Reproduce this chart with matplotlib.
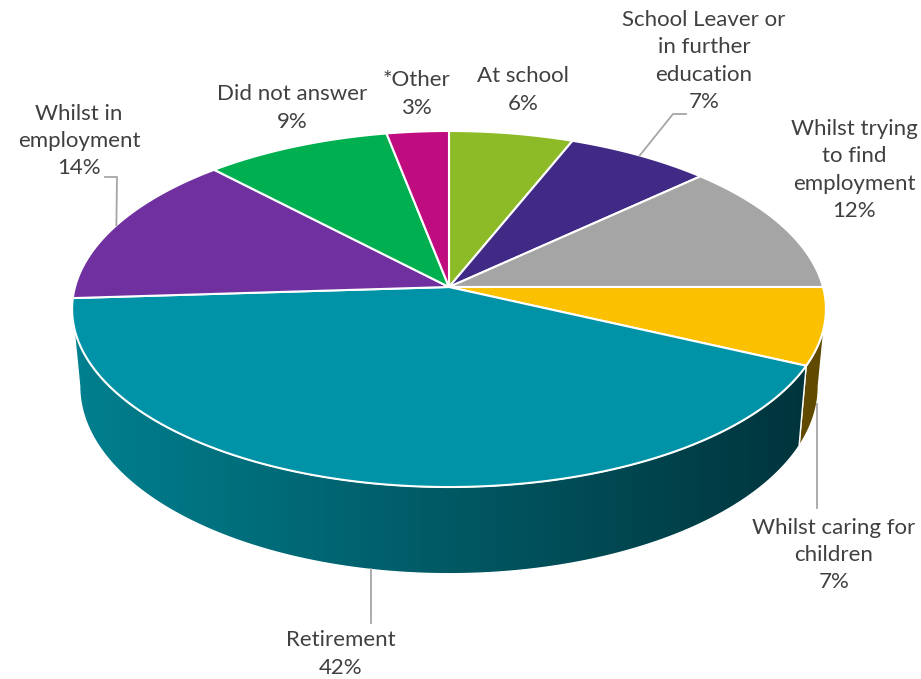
import numpy as np
import matplotlib.pyplot as plt
from matplotlib.patches import Polygon

# Survey answers, clockwise from 12 o'clock
categories = ['At school', 'School Leaver or\nin further\neducation',
              'Whilst trying\nto find\nemployment', 'Whilst caring for\nchildren',
              'Retirement', 'Whilst in\nemployment', 'Did not answer', '*Other']
shares = [6, 7, 12, 7, 42, 14, 9, 3]
top_colors = ['#8CBB27', '#402A86', '#A5A5A5', '#FBC000',
              '#0092A6', '#7030A0', '#00B050', '#BF0D80']
side_colors = ['#46600F', '#201444', '#555555', '#5F4A00',
               '#00606E', '#381850', '#005828', '#600640']

# label block centres (pixels) and leader elbows
label_pos = [(523, 90), (704, 61), (854, 170), (834, 555),
             (341, 654), (79, 141), (292, 108), (416, 94)]
leaders = {1: [(673, 114), (686, 114)],
           3: [(None, 508)],
           4: [(None, 623)],
           5: [(117, 177), (105, 177)]}

# projection of the tilted disc
CX, CY = 449, 287
RX, RY = 374, 175.3
K = 0.1236
DEPTH = 76
BOTTOM_SHRINK = 0.98


def project(theta, drop=0.0):
    t = np.radians(theta)
    X = np.sin(t)
    Y = -np.cos(t)
    s = 1.0 / (1.0 - K * Y)
    shrink = 1.0 - (1.0 - BOTTOM_SHRINK) * (drop / DEPTH)
    return CX + RX * X * s * shrink, CY + RY * Y * s + drop * s


fig = plt.figure(figsize=(9.21, 6.79), dpi=100)
ax = fig.add_axes([0, 0, 1, 1])

bounds = np.concatenate([[0], np.cumsum(shares)]) * 3.6
t_min = np.degrees(np.arccos(-K))
t_max = 360 - t_min

# side walls
for i in range(len(shares)):
    lo, hi = max(bounds[i], t_min), min(bounds[i + 1], t_max)
    if lo >= hi:
        continue
    th = np.linspace(lo, hi, 200)
    tx, ty = project(th)
    bx, by = project(th[::-1], DEPTH)
    pts = np.column_stack([np.concatenate([tx, bx]), np.concatenate([ty, by])])
    if categories[i] == 'Retirement':
        outline = Polygon(pts, closed=True, facecolor='none', edgecolor='white', lw=1.0, zorder=3)
        ax.add_patch(outline)
        x0, x1 = pts[:, 0].min(), pts[:, 0].max()
        c0 = np.array([0x00, 0x80, 0x8F]) / 255
        c1 = np.array([0x00, 0x34, 0x3C]) / 255
        f = np.linspace(0, 1, 256)[:, None]
        grad = (c0 + (c1 - c0) * f)[None, :, :]
        im = ax.imshow(grad, extent=(x0, x1, pts[:, 1].max(), pts[:, 1].min()),
                       aspect='auto', zorder=2, interpolation='bilinear')
        im.set_clip_path(outline)
    else:
        ax.add_patch(Polygon(pts, closed=True, facecolor=side_colors[i],
                             edgecolor='white', lw=1.0, zorder=2))

# top face
for i in range(len(shares)):
    th = np.linspace(bounds[i], bounds[i + 1], 200)
    ax_, ay_ = project(th)
    pts = np.column_stack([np.concatenate([[CX], ax_]), np.concatenate([[CY], ay_])])
    ax.add_patch(Polygon(pts, closed=True, facecolor=top_colors[i],
                         edgecolor='white', lw=1.5, zorder=4, joinstyle='round'))

# labels and leader lines
for i, (cat, val) in enumerate(zip(categories, shares)):
    x, y = label_pos[i]
    ax.text(x, y, f'{cat}\n{val}%', ha='center', va='center', fontsize=16,
            family='Lato', color='#404040', linespacing=1.45, zorder=6)
    if i in leaders:
        mid = (bounds[i] + bounds[i + 1]) / 2
        drop = DEPTH if 90 < mid < 270 else 0
        sx, sy = project(mid, drop)
        xs, ys = [sx], [sy]
        for px, py in leaders[i]:
            xs.append(sx if px is None else px)
            ys.append(py)
        ax.plot(xs, ys, color='#A6A6A6', lw=1.3, zorder=5)

ax.set_xlim(0, 921)
ax.set_ylim(679, 0)
ax.axis('off')
fig.savefig('out.png', dpi=100, facecolor='white')
